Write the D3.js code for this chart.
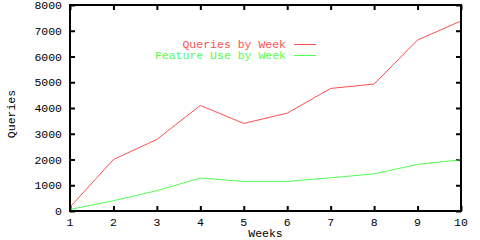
<!DOCTYPE html>
<html>
<head>
<meta charset="utf-8">
<script src="https://cdn.jsdelivr.net/npm/d3@7"></script>
<style>
  body { margin: 0; background: #fff; }
  text { font-family: "Liberation Mono", "DejaVu Sans Mono", monospace; font-size: 11.5px; }
</style>
</head>
<body>
<svg id="chart" width="480" height="240"></svg>
<script>
"use strict";

// data
const weeks = [1, 2, 3, 4, 5, 6, 7, 8, 9, 10];
const queries = [150, 2000, 2780, 4100, 3400, 3800, 4760, 4930, 6640, 7380];
const features = [60, 400, 790, 1280, 1150, 1150, 1290, 1440, 1810, 1990];
const y_ticks = [0, 1000, 2000, 3000, 4000, 5000, 6000, 7000, 8000];
const series_names = ['Queries by Week', 'Feature Use by Week'];

const red = '#ff5050', green = '#50ff50';

const svg = d3.select('#chart');

// plot box
const p_left = 70, p_right = 461, p_top = 5, p_bottom = 211;

const x = d3.scaleLinear().domain([1, 10]).range([p_left, p_right]);
const y = d3.scaleLinear().domain([0, 8000]).range([p_bottom, p_top]);

// ticks on all four sides, pointing inward
const tick_len = 5;
const xa_bottom = d3.axisTop(x).tickValues(weeks).tickSize(tick_len).tickFormat('');
const xa_top = d3.axisBottom(x).tickValues(weeks).tickSize(tick_len).tickFormat('');
const ya_left = d3.axisRight(y).tickValues(y_ticks).tickSize(tick_len).tickFormat('');
const ya_right = d3.axisLeft(y).tickValues(y_ticks).tickSize(tick_len).tickFormat('');

const add_axis = (ax, tx, ty) => {
  const g = svg.append('g').attr('transform', `translate(${tx},${ty})`).call(ax);
  g.select('.domain').remove();
  g.selectAll('line').attr('stroke', '#000').attr('stroke-width', 2);
};
add_axis(xa_bottom, 0, p_bottom);
add_axis(xa_top, 0, p_top);
add_axis(ya_left, p_left, 0);
add_axis(ya_right, p_right, 0);

// tick labels
svg.append('g').selectAll('text')
  .data(y_ticks).join('text')
  .attr('x', p_left - 8)
  .attr('y', d => y(d) + 1)
  .attr('dominant-baseline', 'middle')
  .attr('text-anchor', 'end')
  .text(d => d);

svg.append('g').selectAll('text')
  .data(weeks).join('text')
  .attr('x', d => x(d))
  .attr('y', 223)
  .attr('dominant-baseline', 'middle')
  .attr('text-anchor', 'middle')
  .text(d => d);

// axis titles
svg.append('text')
  .attr('x', (p_left + p_right) / 2)
  .attr('y', 234)
  .attr('dominant-baseline', 'middle')
  .attr('text-anchor', 'middle')
  .text('Weeks');

svg.append('text')
  .attr('transform', 'translate(12,114) rotate(-90)')
  .attr('dominant-baseline', 'middle')
  .attr('text-anchor', 'middle')
  .text('Queries');

// lines
const line = d3.line().x((d, i) => x(weeks[i])).y(d => y(d));

svg.append('path')
  .attr('d', line(queries))
  .attr('fill', 'none')
  .attr('stroke', red)
  .attr('stroke-width', 1);

svg.append('path')
  .attr('d', line(features))
  .attr('fill', 'none')
  .attr('stroke', green)
  .attr('stroke-width', 1);

// frame
svg.append('rect')
  .attr('x', p_left).attr('y', p_top)
  .attr('width', p_right - p_left).attr('height', p_bottom - p_top)
  .attr('fill', 'none')
  .attr('stroke', '#000')
  .attr('stroke-width', 2);

// legend
const colors = [red, green];
series_names.forEach((name, i) => {
  const ly = 44.5 + i * 11;
  svg.append('text')
    .attr('x', 286)
    .attr('y', ly)
    .attr('dominant-baseline', 'middle')
    .attr('text-anchor', 'end')
    .attr('fill', colors[i])
    .text(name);
  svg.append('line')
    .attr('x1', 294).attr('x2', 316)
    .attr('y1', ly).attr('y2', ly)
    .attr('stroke', colors[i])
    .attr('stroke-width', 1);
});
</script>
</body>
</html>
